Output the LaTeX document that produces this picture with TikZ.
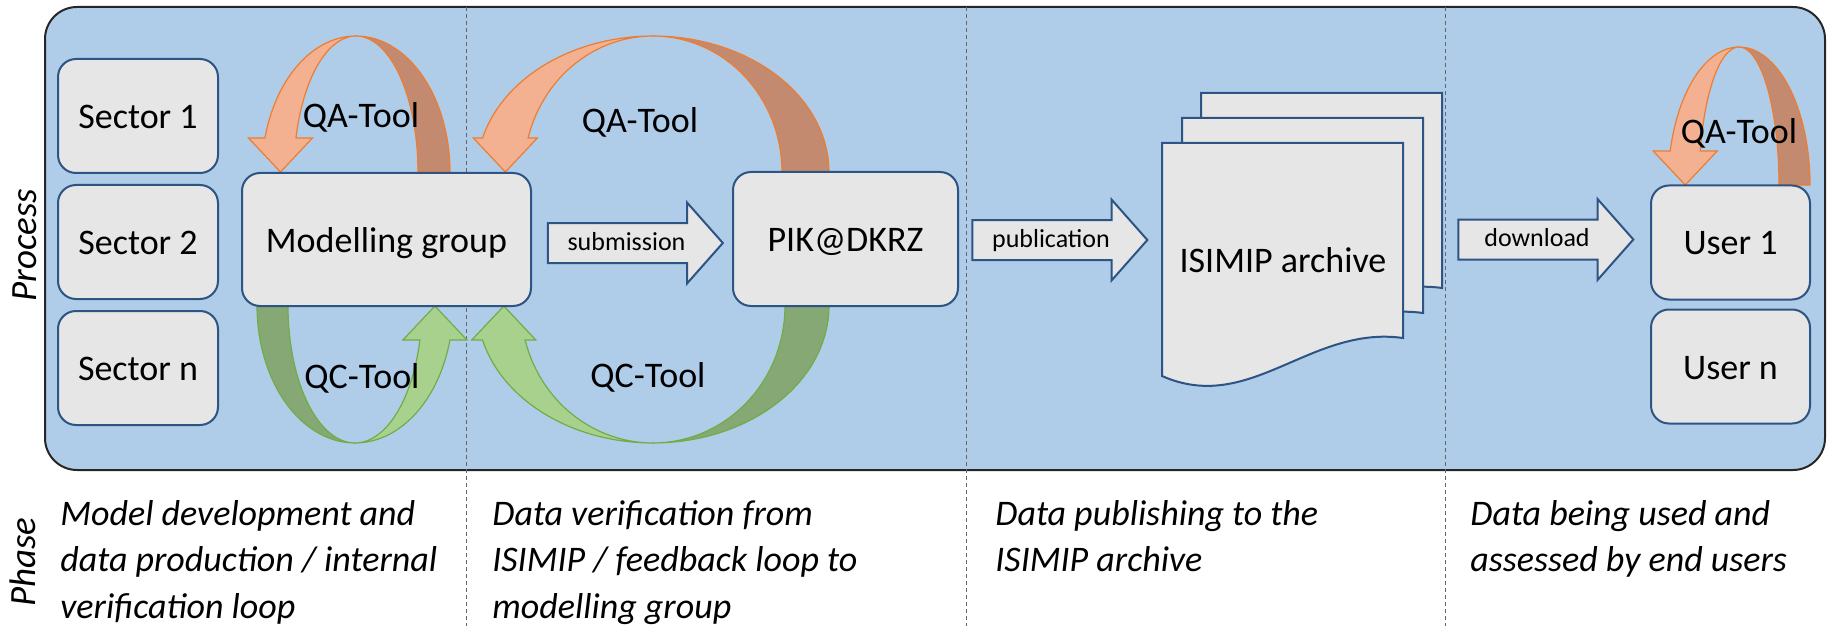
\documentclass[tikz,border=0pt]{standalone}
\usepackage{fontspec}
\setmainfont{Carlito}
\usetikzlibrary{positioning}
\usetikzlibrary{shapes.arrows}

\definecolor{bgblue}{RGB}{175,205,233}
\definecolor{boxfill}{RGB}{230,230,230}
\definecolor{boxline}{RGB}{46,84,132}
\definecolor{qalight}{RGB}{244,177,145}
\definecolor{qadark}{RGB}{196,138,112}
\definecolor{qaline}{RGB}{237,125,49}
\definecolor{qclight}{RGB}{169,209,142}
\definecolor{qcdark}{RGB}{134,168,116}
\definecolor{qcline}{RGB}{112,173,71}

\tikzset{
  box/.style={draw=boxline, fill=boxfill, line width=1pt, rounded corners=9pt,
    font=\fontsize{18}{22}\selectfont, text height=12.5pt, text depth=0pt, inner sep=0pt},
  sector/.style={box, minimum width=80pt, minimum height=57pt},
  user/.style={box, minimum width=79.5pt, minimum height=57pt},
  flow/.style={single arrow, draw=boxline, fill=boxfill, line width=1pt,
    font=\fontsize{13}{15}\selectfont, text height=9.5pt, text depth=2.5pt,
    inner ysep=3.5pt, inner xsep=0pt, minimum height=87.5pt,
    single arrow head extend=10.25pt, single arrow tip angle=97},
  page/.style={draw=boxline, fill=boxfill, line width=1pt},
  tool/.style={font=\fontsize{18}{22}\selectfont, anchor=base, inner sep=0pt},
  phase/.style={font=\fontsize{18}{23.35}\selectfont\itshape, align=left, anchor=base west, inner sep=0pt},
  side/.style={font=\fontsize{18.5}{22}\selectfont\itshape, rotate=90, inner sep=0pt},
  qaback/.style={fill=qadark, draw=qaline, line width=0.6pt},
  qafront/.style={fill=qalight, draw=qaline, line width=0.6pt},
  qcback/.style={fill=qcdark, draw=qcline, line width=0.6pt},
  qcfront/.style={fill=qclight, draw=qcline, line width=0.6pt}
}

\newcommand\qloop[8]{%
  \pgfmathsetmacro\thh{180-asin(34/#5)}
  \pgfmathsetmacro\xout{#1+(#6)*#3*cos(\thh)}
  \pgfmathsetmacro\xin{#1+(#6)*#4*cos(\thh)}
  \pgfmathsetmacro\xm{(\xout+\xin)/2}
  \pgfmathsetmacro\xa{\xm-(#6)*32}
  \pgfmathsetmacro\xb{\xm+(#6)*32}
  \pgfmathsetmacro\yh{#2-(#7)*34}
  \filldraw[#8back] plot[domain=0:90, samples=30] ({#1+(#6)*#3*cos(\x)},{#2-(#7)*#5*sin(\x)})
    -- plot[domain=90:0, samples=30] ({#1+(#6)*#4*cos(\x)},{#2-(#7)*#5*sin(\x)}) -- cycle;
  \filldraw[#8front] plot[domain=90:\thh, samples=30] ({#1+(#6)*#3*cos(\x)},{#2-(#7)*#5*sin(\x)})
    -- (\xa,\yh) -- (\xm,#2) -- (\xb,\yh)
    -- plot[domain=\thh:90, samples=30] ({#1+(#6)*#4*cos(\x)},{#2-(#7)*#5*sin(\x)}) -- cycle;
}

\begin{document}
\begin{tikzpicture}[x=0.5pt,y=-0.5pt]
\useasboundingbox (0,0) rectangle (1827,626);
\filldraw[fill=bgblue, draw=black!85, line width=1pt, rounded corners=16pt] (45,7) rectangle (1825,470);
\foreach \x in {466,966,1445}
  \draw[black!60, line width=0.5pt, dash pattern=on 2pt off 1.5pt] (\x,7) -- (\x,626);

\qloop{356}{172}{94}{62}{136}{1}{1}{qa}
\qloop{355}{306}{98}{67}{137}{-1}{-1}{qc}
\qloop{653}{172}{176}{129}{136}{1}{1}{qa}
\qloop{653}{306}{176}{132}{137}{1}{-1}{qc}
\qloop{1739}{185}{71}{40}{138}{1}{1}{qa}

\node[sector] (s1) at (138,116) {Sector 1};
\node[sector, below=5pt of s1] (s2) {Sector 2};
\node[sector, below=5pt of s2] (sn) {Sector n};
\node[box, minimum width=144.5pt, minimum height=66.5pt] (mg) at (386.5,239.5) {Modelling group};
\node[box, minimum width=112.5pt, minimum height=67pt] (pik) at (845.5,239) {PIK@DKRZ};
\node[user] (u1) at (1730.5,242.5) {User 1};
\node[user, below=4pt of u1] (un) {User n};

\node[flow] (sub) at (626.5,243) {submission};
\node[flow] (pub) at (1051,240) {publication};
\node[flow] (dl) at (1537,239.5) {download};

\foreach \dx/\dy in {39/-50,20/-25,0/0}
  \filldraw[page, shift={(\dx,\dy)}] (1162,143) -- (1403,143) -- (1403,338)
    .. controls (1310,325) and (1250,415) .. (1162,376) -- cycle;
\node[font=\fontsize{18}{22}\selectfont, text height=12.5pt, text depth=0pt, inner sep=0pt] (arch) at (1283,259.5) {ISIMIP archive};

\node[tool] (qa1) at (361,128) {QA-Tool};
\node[tool] (qc1) at (362,388) {QC-Tool};
\node[tool] (qa2) at (640,133) {QA-Tool};
\node[tool] (qc2) at (648,387) {QC-Tool};
\node[tool] (qa3) at (1739,144) {QA-Tool};

\node[side] (proc) at (25,245) {Process};
\node[side] (phase) at (23,562) {Phase};

\node[phase] (ph1) at (60,618.4) {Model development and\\data production / internal\\verification loop};
\node[phase] (ph2) at (492,618.4) {Data verification from\\ISIMIP / feedback loop to\\modelling group};
\node[phase] (ph3) at (995,571.7) {Data publishing to the\\ISIMIP archive};
\node[phase] (ph4) at (1470,571.7) {Data being used and\\assessed by end users};
\end{tikzpicture}
\end{document}
